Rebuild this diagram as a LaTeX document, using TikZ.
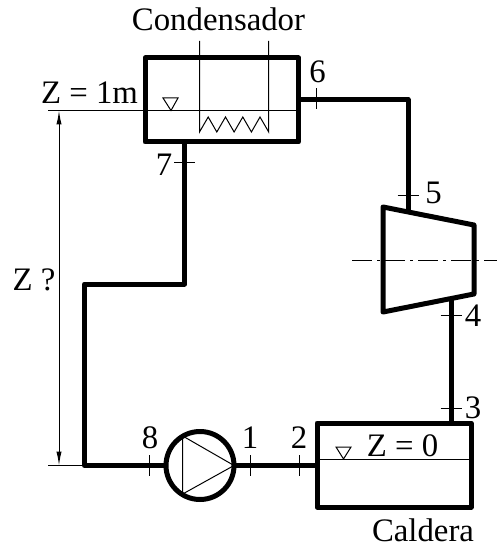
\documentclass[tikz,border=0pt]{standalone}
\usepackage{fontspec}
\setmainfont{Liberation Serif}
\usetikzlibrary{arrows.meta,calc}
\tikzset{
  pipe/.style={line width=2.5pt,line join=round},
  fine/.style={line width=0.5pt},
  tank/.style={draw,pipe,inner sep=0pt,outer sep=0pt},
  lbl/.style={anchor=base,inner sep=0pt,outer sep=0pt},
  vtick/.style={inner sep=0pt,outer sep=0pt,minimum width=0pt,minimum height=10.5pt},
  htick/.style={inner sep=0pt,outer sep=0pt,minimum height=0pt,minimum width=10.5pt},
}
\begin{document}
\begin{tikzpicture}[x=0.5pt,y=-0.5pt,font=\fontsize{16.4}{18}\selectfont]
  \useasboundingbox (0,0) rectangle (501,550);
  % equipment
  \node[tank,minimum width=76.75pt,minimum height=42pt] (cond) at (221.75,100) {};
  \node[tank,minimum width=77pt,minimum height=42pt] (cald) at (394,465) {};
  \node[tank,circle,minimum size=34pt] (pump) at (200,465.5) {};
  \coordinate (turbA) at (383,207);
  \coordinate (turbB) at (474,225);
  \coordinate (turbC) at (474,294);
  \coordinate (turbD) at (383,312);
  \draw[pipe] (turbA) -- (turbB) -- (turbC) -- (turbD) -- cycle;
  % pipes
  \coordinate (c6) at (408,99.5);
  \coordinate (t5) at (408,212);
  \coordinate (t4) at (451,297);
  \coordinate (c7a) at (184.5,284);
  \coordinate (c7b) at (84.5,284);
  \coordinate (c8) at (84.5,465.5);
  \draw[pipe] (cond.east |- c6) -- (c6) -- (t5);
  \draw[pipe] (t4) -- (t4 |- cald.north);
  \draw[pipe] (c7a |- cond.south) -- (c7a) -- (c7b) -- (c8) -- (pump.west);
  \draw[pipe] (pump.east) -- (cald.west |- pump.east);
  % water levels
  \coordinate (lvlC) at (48,110.5);
  \coordinate (lvlB) at (48,465.5);
  \draw[fine] (lvlC) -- (lvlC -| cond.east);
  \draw[fine] (lvlB) -- (c8);
  \draw[fine] (cald.west |- 0,459) -- (cald.east |- 0,459);
  \draw[fine] (163,98) -- (178,98) -- (171,110.5) -- cycle;
  \draw[fine] (336,447) -- (351,447) -- (343.5,459) -- cycle;
  % coil
  \coordinate (coilA) at (199.5,41);
  \coordinate (coilB) at (268.7,41);
  \draw[fine] (coilA) -- (199.5,132) -- (208.2,117) -- (216.8,132) -- (225.5,117) -- (234.1,132)
    -- (242.8,117) -- (251.4,132) -- (260,117) -- (268.7,132) -- (coilB);
  % pump
  \coordinate (pumpA) at (182.7,436);
  \coordinate (pumpB) at (182.7,494);
  \draw[fine] (pumpA) -- (pumpB) -- (pump.east) -- cycle;
  % axis
  \coordinate (axisL) at (352,261);
  \coordinate (axisR) at (497,261);
  \draw[fine,dash pattern=on 10pt off 2.5pt on 1.5pt off 2.5pt] (axisL) -- (axisR);
  % dimension
  \coordinate (dimT) at (59,110.5);
  \coordinate (dimB) at (59,465.5);
  \draw[fine,{Latex[length=7pt,width=2.6pt]}-{Latex[length=7pt,width=2.6pt]}] (dimT) -- (dimB);
  % ticks
  \foreach \nm/\x/\y in {n6/316/99, n8/149/465.5, n1/250/465.5, n2/299/465.5}
    {\node[vtick] (\nm) at (\x,\y) {}; \draw[fine] (\nm.north) -- (\nm.south);}
  \foreach \nm/\x/\y in {n7/184.5/163, n5/408/196, n4/451/315, n3/451/408}
    {\node[htick] (\nm) at (\x,\y) {}; \draw[fine] (\nm.west) -- (\nm.east);}
  % labels
  \node[lbl] (lcond) at (218.5,31) {Condensador};
  \node[lbl] (lz1) at (89.5,104) {Z = 1m};
  \node[lbl] (lz0) at (402.5,456) {Z = 0};
  \node[lbl] (lzq) at (34,290) {Z ?};
  \node[lbl] (lcald) at (423,541) {Caldera};
  \foreach \nm/\x/\y/\t in {l6/317.5/83/6, l7/164/176/7, l5/433.5/204/5, l4/473/326/4,
      l3/473/418/3, l8/150/448/8, l1/250/448/1, l2/299/448/2}
    \node[lbl] (\nm) at (\x,\y) {\t};
\end{tikzpicture}
\end{document}
